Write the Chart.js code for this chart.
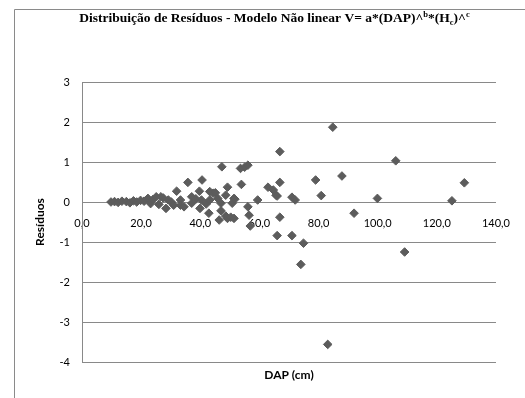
<!DOCTYPE html>
<html>
<head>
<meta charset="utf-8">
<script src="https://cdn.jsdelivr.net/npm/chart.js@4"></script>
<style>
  body { margin: 0; background: #fff; }
  #residuos { display: block; }
</style>
</head>
<body>
<canvas id="residuos" width="525" height="398"></canvas>
<script>

// DAP (cm) of each tree and the residual of the non linear volume model
const dap = [
  9.8, 11.0, 12.2, 13.5, 15.0, 16.2, 17.4, 18.5, 19.8, 21.0, 22.3, 23.2, 24.0, 25.1, 26.0, 26.7, 27.5, 28.4, 29.2, 30.2, 31.0, 32.0,
  33.3, 33.3, 34.5, 35.8, 37.1, 37.1, 38.5, 39.7, 39.9, 40.4, 40.6, 42.0, 42.9, 43.2, 43.2, 44.3, 45.1, 45.9, 46.4, 47.0, 47.0, 47.3,
  48.6, 48.6, 49.2, 49.2, 50.3, 50.8, 51.4, 51.4, 51.7, 53.6, 53.9, 55.0, 56.1, 56.1, 56.5, 56.9, 59.4,
  62.9, 64.7, 65.6, 66.0, 66.9, 66.9, 66.9, 66.0, 71.0, 72.1, 71.0, 74.9, 74.0, 79.0, 80.9, 83.1, 84.8, 87.9, 92.0, 99.9,
  106.1, 109.1, 125.1, 129.3
];
const residuos = [
  0.00, 0.01, -0.01, 0.02, 0.01, -0.02, 0.03, 0.00, 0.04, 0.02, 0.09, -0.04, 0.06, 0.13, -0.06, 0.13, 0.10, -0.16, 0.05, 0.00, -0.08, 0.27,
  0.05, -0.08, -0.12, 0.49, 0.13, -0.03, 0.08, 0.27, -0.16, 0.05, 0.55, -0.05, -0.28, 0.26, 0.05, 0.22, 0.23, 0.09, -0.45, -0.03, -0.22, 0.88,
  0.17, -0.35, 0.37, -0.41, -0.38, -0.03, 0.09, -0.41, 0.07, 0.84, 0.44, 0.87, 0.92, -0.12, -0.33, -0.60, 0.05,
  0.37, 0.30, 0.17, 0.15, 1.26, 0.49, -0.38, -0.84, 0.12, 0.05, -0.84, -1.03, -1.56, 0.55, 0.16, -3.56, 1.87, 0.65, -0.28, 0.09,
  1.03, -1.25, 0.03, 0.48
];

// title pieces: text and shift (1 = superscript, -1 = subscript)
const titleParts = [
  ['Distribuição de Resíduos - Modelo Não linear V= a*(DAP)^', 0],
  ['b', 1], ['*(H', 0], ['c', -1], [')^', 0], ['c', 1]
];

const points = dap.map((x, i) => ({x: x, y: residuos[i]}));

const gray = '#898989';
const tickFont = {family: 'Lato', size: 11};
const axisTitleFont = {family: 'Lato', size: 12, weight: 'bold'};

const framePlugin = {
  id: 'frame',
  beforeDraw(chart) {
    const ctx = chart.ctx;
    ctx.save();
    ctx.fillStyle = '#fff';
    ctx.fillRect(0, 0, chart.width, chart.height);
    ctx.strokeStyle = '#8a8a8a';
    ctx.lineWidth = 1;
    ctx.beginPath();
    ctx.moveTo(14.5, chart.height);
    ctx.lineTo(14.5, 9.5);
    ctx.lineTo(chart.width, 9.5);
    ctx.stroke();
    ctx.restore();
  },
  afterDraw(chart) {
    const ctx = chart.ctx;
    const big = 'bold 13.5px "Liberation Serif"';
    const small = 'bold 8.5px "Liberation Serif"';
    ctx.save();
    ctx.fillStyle = '#000';
    ctx.textBaseline = 'alphabetic';
    let total = 0;
    titleParts.forEach(p => {
      ctx.font = p[1] ? small : big;
      total += ctx.measureText(p[0]).width;
    });
    let x = 274.5 - total / 2;
    const base = 22;
    titleParts.forEach(p => {
      ctx.font = p[1] ? small : big;
      const dy = p[1] === 1 ? -5 : (p[1] === -1 ? 2.5 : 0);
      ctx.fillText(p[0], x, base + dy);
      x += ctx.measureText(p[0]).width;
    });
    ctx.restore();
  }
};

const config = {
  type: 'scatter',
  data: {
    datasets: [{
      label: 'Resíduos',
      data: points,
      pointStyle: 'rectRot',
      radius: 4.3,
      backgroundColor: '#5c5c5c',
      borderColor: '#5c5c5c',
      borderWidth: 1
    }]
  },
  options: {
    responsive: false,
    animation: false,
    events: [],
    devicePixelRatio: 1,
    plugins: {
      legend: {display: false},
      tooltip: {enabled: false}
    },
    layout: {
      padding: {top: 82, right: 17, left: 0, bottom: 0}
    },
    scales: {
      x: {
        type: 'linear',
        position: {y: 0},
        min: 0,
        max: 140,
        ticks: {
          stepSize: 20,
          padding: 15,
          color: '#000',
          font: tickFont,
          maxRotation: 0,
          callback: v => v.toFixed(1).replace('.', ',')
        },
        grid: {display: false, drawTicks: false},
        border: {display: false},
        afterFit: s => { s.height = 0; }
      },
      xTitle: {
        type: 'linear',
        axis: 'x',
        position: 'bottom',
        min: 0,
        max: 140,
        ticks: {display: false},
        grid: {display: false, drawTicks: false},
        border: {display: false},
        title: {
          display: true,
          text: 'DAP (cm)',
          color: '#000',
          font: axisTitleFont,
          padding: {top: 0, bottom: 16}
        },
        afterFit: s => { s.height = 36; }
      },
      y: {
        min: -4,
        max: 3,
        ticks: {
          stepSize: 1,
          padding: 12,
          color: '#000',
          font: tickFont
        },
        grid: {color: gray, drawTicks: false},
        border: {color: gray},
        title: {
          display: true,
          text: 'Resíduos',
          color: '#000',
          font: axisTitleFont,
          padding: {top: 33, bottom: 0}
        },
        afterFit: s => { s.width = 82; }
      }
    }
  },
  plugins: [framePlugin]
};

const residuosChart = new Chart(document.getElementById('residuos'), config);
</script>
</body>
</html>
